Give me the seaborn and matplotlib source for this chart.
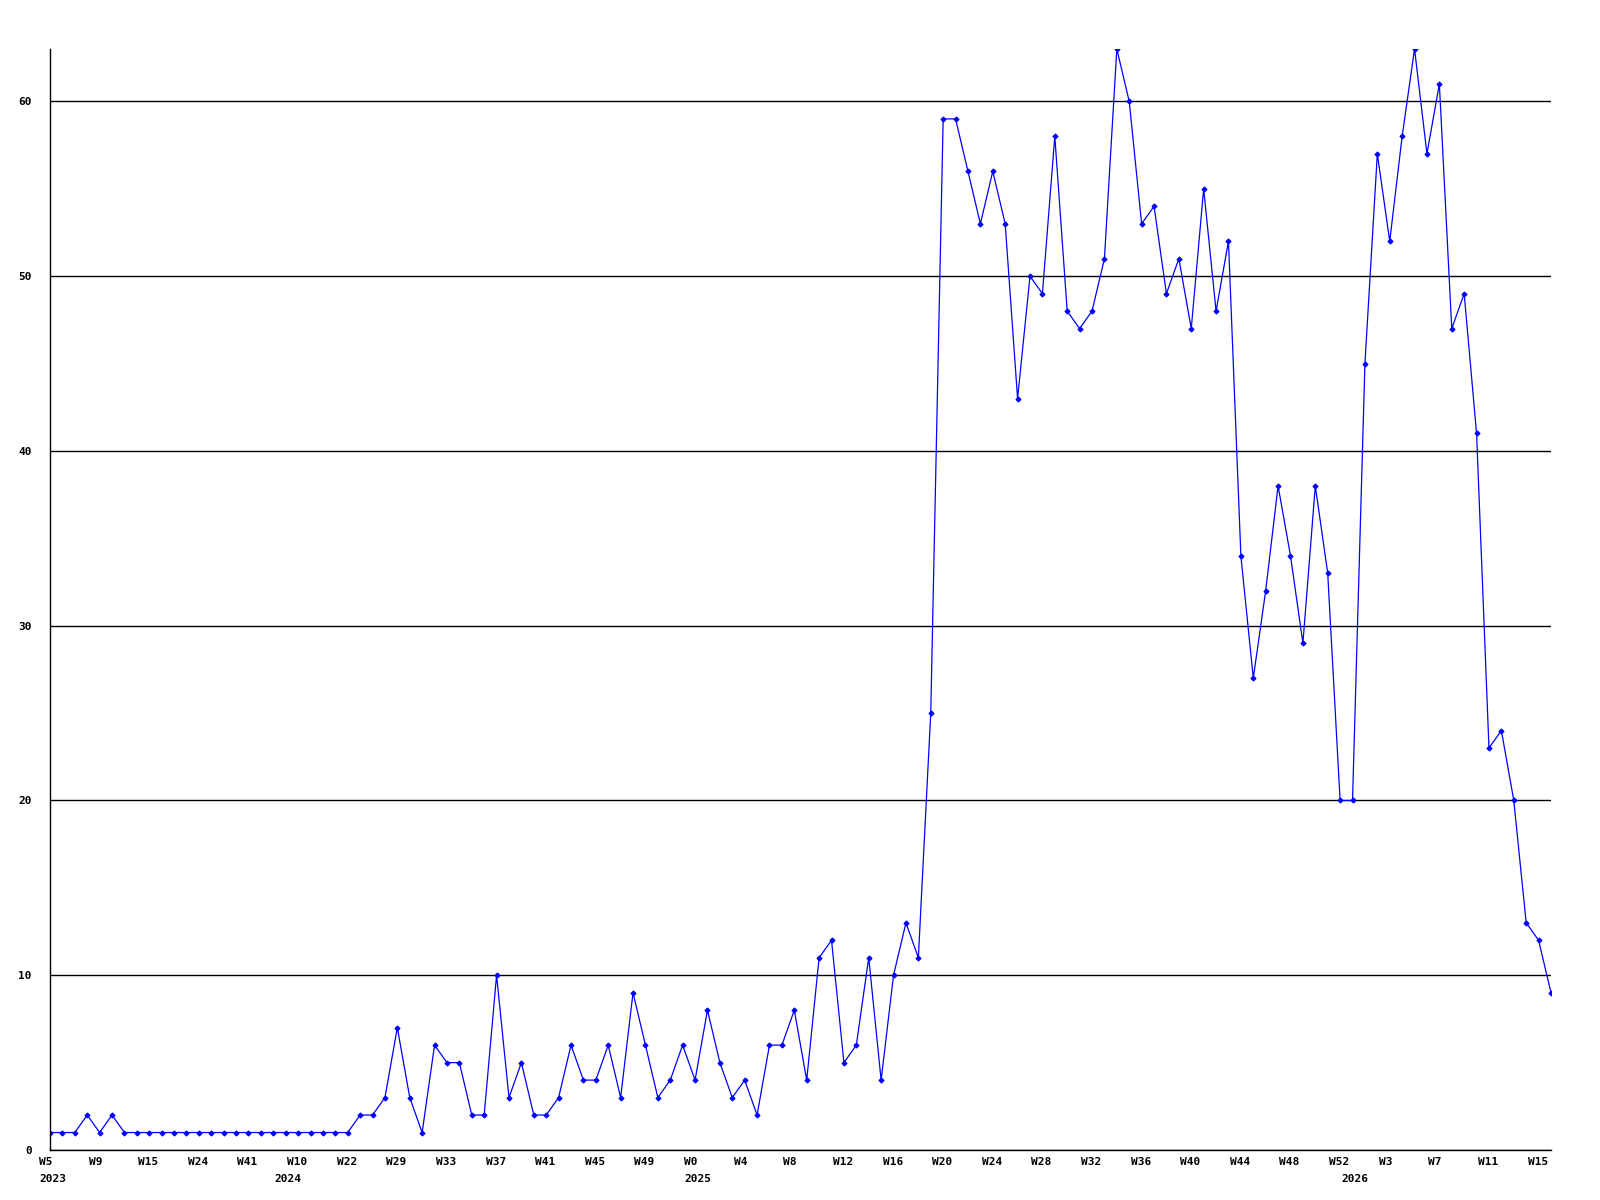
import pandas as pd
import seaborn as sns
import matplotlib.pyplot as plt
from matplotlib.transforms import ScaledTranslation

# weekly counts, one value per week shown on the chart (2023 W5 .. 2026 W16)
counts = [1, 1, 1, 2, 1, 2, 1, 1, 1, 1, 1, 1, 1, 1, 1, 1, 1, 1, 1, 1,
          1, 1, 1, 1, 1, 2, 2, 3, 7, 3, 1, 6, 5, 5, 2, 2, 10, 3, 5, 2,
          2, 3, 6, 4, 4, 6, 3, 9, 6, 3, 4, 6, 4, 8, 5, 3, 4, 2, 6, 6,
          8, 4, 11, 12, 5, 6, 11, 4, 10, 13, 11, 25, 59, 59, 56, 53, 56, 53, 43, 50,
          49, 58, 48, 47, 48, 51, 63, 60, 53, 54, 49, 51, 47, 55, 48, 52, 34, 27, 32, 38,
          34, 29, 38, 33, 20, 20, 45, 57, 52, 58, 63, 57, 61, 47, 49, 41, 23, 24, 20, 13,
          12, 9]

# labels shown every 4th week
tick_labels = ['W5', 'W9', 'W15', 'W24', 'W41', 'W10', 'W22', 'W29', 'W33', 'W37',
               'W41', 'W45', 'W49', 'W0', 'W4', 'W8', 'W12', 'W16', 'W20', 'W24',
               'W28', 'W32', 'W36', 'W40', 'W44', 'W48', 'W52', 'W3', 'W7', 'W11', 'W15']

# first week of each year
year_labels = ['2023', '2024', '2025', '2026']
year_starts = [0, 19, 52, 105]

df = pd.DataFrame({'week': range(len(counts)), 'count': counts})

sns.set_style('white')
plt.rcParams['font.family'] = ['DejaVu Sans Mono']
plt.rcParams['font.weight'] = 'bold'
plt.rcParams['font.size'] = 8

fig = plt.figure(figsize=(16, 12), dpi=100)
ax = fig.add_axes([50 / 1600, 50 / 1200, 1501 / 1600, 1101 / 1200])

sns.lineplot(data=df, x='week', y='count', color='blue', marker='D',
             markersize=2.6, markeredgecolor='blue', linewidth=0.9, ax=ax)

ax.set_xlim(0, len(counts) - 1)
ax.set_ylim(0, 63)
ax.set_yticks(range(0, 61, 10))
ax.xaxis.remove_overlapping_locs = False
ax.set_xticks(range(0, len(counts), 4), tick_labels)
ax.set_xticks(year_starts, year_labels, minor=True)
ax.set_xlabel('')
ax.set_ylabel('')

ax.yaxis.grid(True, color='black', linewidth=1)
ax.xaxis.grid(False)
ax.set_axisbelow(True)
for side in ['top', 'right']:
    ax.spines[side].set_visible(False)
for side in ['left', 'bottom']:
    ax.spines[side].set_color('black')
    ax.spines[side].set_linewidth(1)

ax.tick_params(axis='y', length=0, pad=13, labelsize=8, labelcolor='black')
ax.tick_params(axis='x', which='major', length=0, pad=5, labelsize=8, labelcolor='black')
ax.tick_params(axis='x', which='minor', length=0, pad=17, labelsize=8, labelcolor='black')

# labels start a little left of their point
shift = ScaledTranslation(-11 / 100, 0, fig.dpi_scale_trans)
for lbl in ax.get_xticklabels() + ax.get_xticklabels(minor=True):
    lbl.set_ha('left')
    lbl.set_transform(lbl.get_transform() + shift)

fig.savefig('out.png', dpi=100)
